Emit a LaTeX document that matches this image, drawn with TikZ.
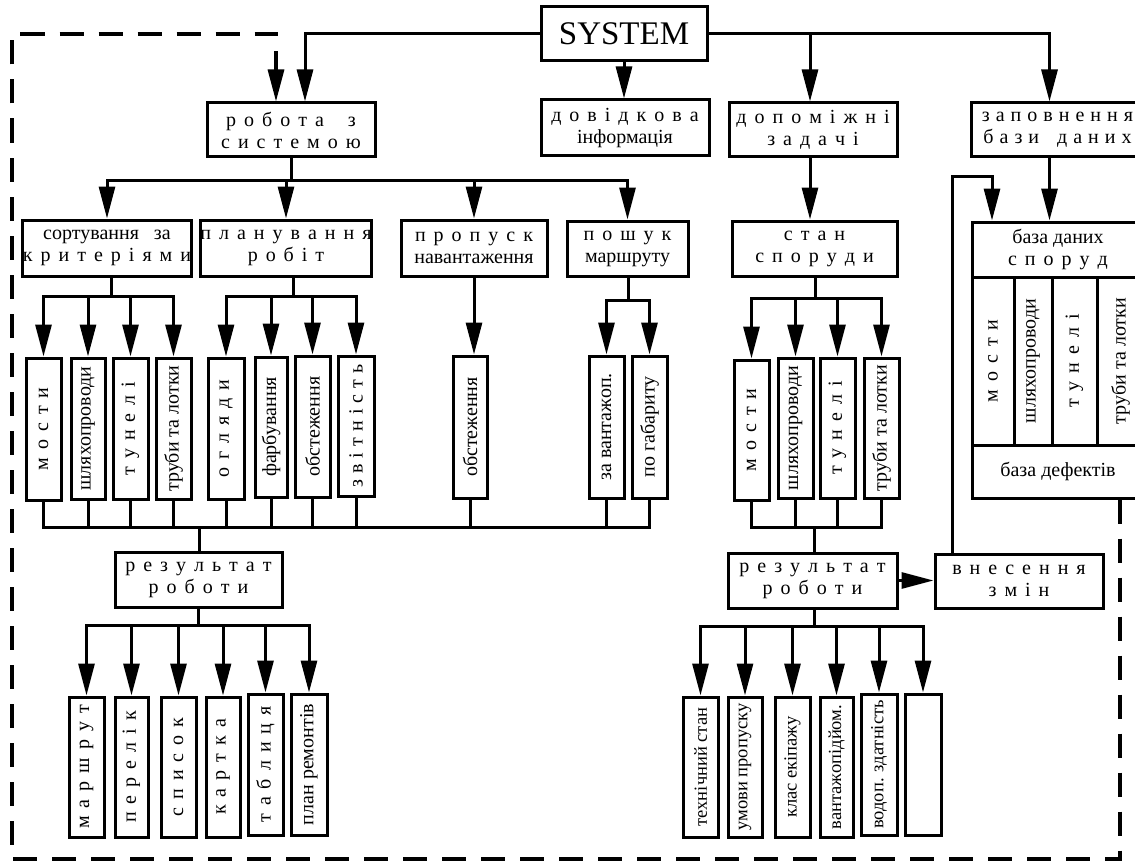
\documentclass[tikz,border=0pt]{standalone}
\usepackage{fontspec}
\setmainfont{Liberation Serif}
\usepackage{graphicx}
\usetikzlibrary{arrows.meta}
\tikzset{
  ln/.style={line width=3pt},
  arr/.style={line width=3pt,-{Triangle[length=32pt,width=16pt]}},
  dsh/.style={line width=3.2pt,dash pattern=on 24pt off 15pt,-{Triangle[length=32pt,width=16pt]}},
  box/.style={draw,line width=3pt,inner sep=0pt,align=center,font=\fontsize{20}{22}\selectfont},
  small/.style={font=\fontsize{18.5}{20}\selectfont},
}
\newcommand\ls[1]{{\spaceskip=0.4em\relax #1}}
\newcommand\lsm[1]{{\spaceskip=0.3em\relax #1}}
\newcommand\bx[7][]{\node[box,#1,minimum width={#5pt-#3pt},minimum height={#6pt-#4pt}] (#2) at ({(#3+#5)/2},{(#4+#6)/2}) {#7};}
\newcommand\vb[7][]{\bx[#1]{#2}{#3}{#4}{#5}{#6}{\rotatebox{90}{#7}}}
\begin{document}
\begin{tikzpicture}[x=1pt,y=-1pt]
\useasboundingbox (0,0) rectangle (1135,864);
% top level
\bx[font=\fontsize{33}{36}\selectfont]{sys}{541}{7}{707}{61}{SYSTEM}
\bx{rob}{207}{103}{375}{157}{\ls{р о б о т а \ \ з}\\\ls{с и с т е м о ю}}
\bx{dov}{541}{100}{709}{156}{\ls{д о в і д к о в а}\\інформація}
\bx{dop}{729}{103}{897}{157}{\ls{д о п о м і ж н і}\\\ls{з а д а ч і}}
\bx{zap}{971}{103}{1144}{157}{\lsm{з а п о в н е н н я}\\\lsm{б а з и \ \ д а н и х}}
% second level
\bx{sort}{23}{220}{191}{276}{сортування\ \ \ за\\\ls{к р и т е р і я м и}}
\bx{plan}{202}{220}{370}{276}{\ls{п л а н у в а н н я}\\\ls{р о б і т}}
\bx{prop}{401}{220}{547}{276}{\ls{п р о п у с к}\\навантаження}
\bx{posh}{567}{221}{688}{276}{\ls{п о ш у к}\\маршруту}
\bx{stan}{732}{221}{897}{276}{\ls{с т а н}\\\ls{с п о р у д и}}
% database
\bx{dbh}{972}{222}{1144}{277}{база даних\\\ls{с п о р у д}}
\vb{db1}{972}{277}{1014}{445}{\ls{м о с т и}}
\vb{db2}{1014}{277}{1052}{445}{шляхопроводи}
\vb{db3}{1052}{277}{1097}{445}{\ls{т у н е л і}}
\vb{db4}{1097}{277}{1144}{445}{труби та лотки}
\bx{dbd}{972}{445}{1144}{498}{база дефектів}
% third level
\vb{s1}{26}{358}{61}{500}{\ls{м о с т и}}
\vb{s2}{71}{358}{105}{499}{шляхопроводи}
\vb{s3}{113}{358}{148}{499}{\ls{т у н е л і}}
\vb{s4}{156}{358}{191}{499}{труби та лотки}
\vb{p1}{208}{358}{244}{499}{\ls{о г л я д и}}
\vb{p2}{255}{357}{287}{497}{фарбування}
\vb{p3}{295}{356}{330}{497}{обстеження}
\vb{p4}{338}{356}{374}{496}{\lsm{з в і т н і с т ь}}
\vb{pr1}{453}{356}{487}{498}{обстеження}
\vb{g1}{589}{356}{624}{498}{за\ вантажоп.}
\vb{g2}{632}{356}{667}{498}{по габариту}
\vb{t1}{734}{360}{769}{500}{\ls{м о с т и}}
\vb{t2}{778}{358}{813}{498}{шляхопроводи}
\vb{t3}{820}{358}{855}{498}{\ls{т у н е л і}}
\vb{t4}{864}{358}{899}{498}{труби та лотки}
% results
\bx{resL}{115}{552}{282}{607}{\ls{р е з у л ь т а т}\\\ls{р о б о т и}}
\bx{resR}{728}{553}{897}{608}{\ls{р е з у л ь т а т}\\\ls{р о б о т и}}
\bx{vn}{935}{554}{1103}{608}{\ls{в н е с е н н я}\\\ls{з м і н}}
% bottom rows
\vb{m1}{69}{697}{104}{837}{\ls{м а р ш р у т}}
\vb{m2}{115}{697}{148}{837}{\ls{п е р е л і к}}
\vb{m3}{161}{697}{196}{837}{\ls{с п и с о к}}
\vb{m4}{206}{697}{240}{837}{\ls{к а р т к а}}
\vb{m5}{248}{694}{283}{835}{\ls{т а б л и ц я}}
\vb{m6}{291}{694}{327}{835}{план ремонтів}
\vb[small]{u1}{683}{697}{718}{837}{технічний стан}
\vb[small]{u2}{728}{697}{762}{837}{умови пропуску}
\vb[small]{u3}{775}{697}{810}{837}{клас екіпажу}
\vb[small]{u4}{820}{697}{853}{837}{вантажопідйом.}
\vb[small]{u5}{861}{694}{897}{835}{водоп. здатність}
\bx{u6}{905}{694}{941}{835}{}
% connectors from SYSTEM
\draw[arr] (sys.west) -| ([xshift=14]rob.north);
\draw[arr] (sys.south) -- (sys.south |- dov.north);
\draw[arr] (sys.east) -| ([xshift=-3]dop.north);
\draw[arr] (sys.east) -| ([xshift=-8]zap.north);
% robota children
\foreach \c in {sort,plan,prop,posh}
  \draw[arr] (rob.south) -- ++(0,22) -| (\c.north);
\draw[arr] ([xshift=-3]dop.south) -- ([xshift=-3]dop.south |- stan.north);
\draw[arr] ([xshift=-8]zap.south) -- ([xshift=-8]zap.south |- dbh.north);
% third level arrows
\foreach \c in {s1,s2,s3,s4}
  \draw[arr] ([xshift=4]sort.south) -- ++(0,19) -| (\c.north);
\foreach \c in {p1,p2,p3,p4}
  \draw[arr] ([xshift=7]plan.south) -- ++(0,19) -| (\c.north);
\draw[arr] (prop.south) -- (prop.south |- pr1.north);
\foreach \c in {g1,g2}
  \draw[arr] ([xshift=1]posh.south) -- ++(0,23) -| (\c.north);
\foreach \c in {t1,t2,t3,t4}
  \draw[arr] ([xshift=1]stan.south) -- ++(0,21) -| (\c.north);
% buses to results
\coordinate (bL) at (199,527);
\coordinate (bR) at (814,527);
\foreach \c in {s1,s2,s3,s4,p1,p2,p3,p4,pr1,g1,g2}
  \draw[ln] (\c.south) |- (bL);
\draw[ln] (bL) -- (bL |- resL.north);
\foreach \c in {t1,t2,t3,t4}
  \draw[ln] (\c.south) |- (bR);
\draw[ln] (bR) -- (bR |- resR.north);
% result children
\foreach \c in {m1,m2,m3,m4,m5,m6}
  \draw[arr] (resL.south) -- ++(0,17) -| (\c.north);
\foreach \c in {u1,u2,u3,u4,u5,u6}
  \draw[arr] ([xshift=2]resR.south) -- ++(0,17) -| (\c.north);
\draw[arr] (resR.east) -- (resR.east -| vn.west);
% loop back to database
\coordinate (lp) at (952,176);
\draw[arr] (vn.north -| lp) -- (lp) -| ([xshift=-66]dbh.north);
% dashed feedback
\coordinate (dBL) at (12,859);
\coordinate (dTL) at (12,34);
\draw[dsh] ([xshift=62]dbd.south) |- (dBL) -- (dTL) -| ([xshift=-15]rob.north);
\end{tikzpicture}
\end{document}
